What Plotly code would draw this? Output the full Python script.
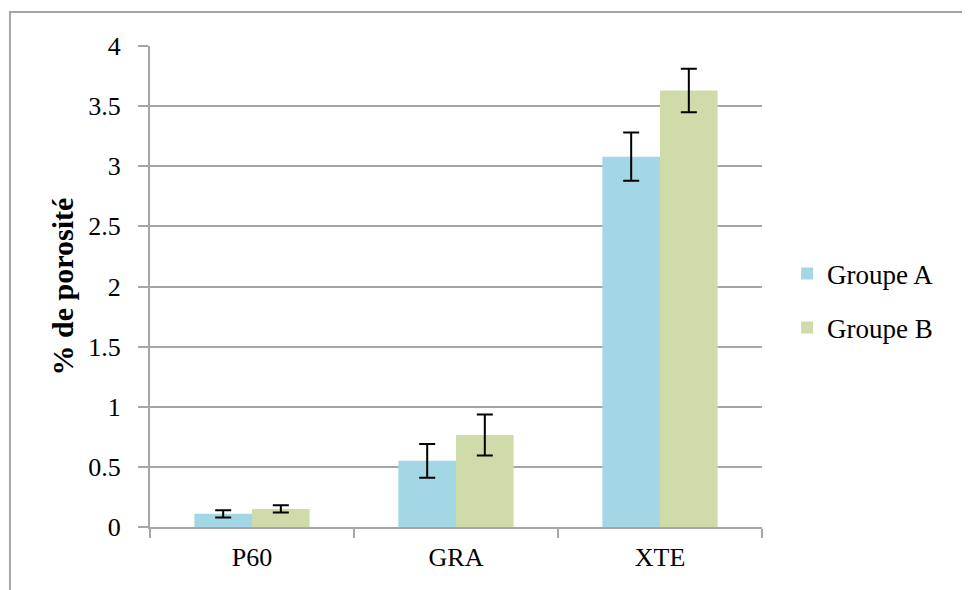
import plotly.graph_objects as go

categories = ["P60", "GRA", "XTE"]
groupe_a = [0.11, 0.55, 3.08]
groupe_a_err = [0.03, 0.14, 0.20]
groupe_b = [0.15, 0.765, 3.63]
groupe_b_err = [0.03, 0.17, 0.18]
y_ticks = [0, 0.5, 1, 1.5, 2, 2.5, 3, 3.5, 4]
y_ticktext = ["0", "0.5", "1", "1.5", "2", "2.5", "3", "3.5", "4"]

font_family = "Liberation Serif"
grid_color = "#a6a6a6"

fig = go.Figure()
fig.add_trace(
    go.Bar(
        x=categories,
        y=groupe_a,
        name="Groupe A",
        legendgroup="a",
        marker=dict(color="#a4d7e5", line_width=0),
        error_y=dict(type="data", array=groupe_a_err, color="black", thickness=2, width=8),
    )
)
fig.add_trace(
    go.Bar(
        x=categories,
        y=groupe_b,
        name="Groupe B",
        legendgroup="b",
        marker=dict(color="#cfdcaa", line_width=0),
        error_y=dict(type="data", array=groupe_b_err, color="black", thickness=2, width=8),
    )
)

# page body adds an 8px offset, so margins are trimmed by 8 on left/top
fig.update_layout(
    width=970,
    height=590,
    margin=dict(l=142, r=216, t=38, b=71),
    plot_bgcolor="white",
    paper_bgcolor="white",
    font=dict(family=font_family, size=26, color="black"),
    barmode="group",
    bargap=0.435,
    bargroupgap=0,
    xaxis=dict(
        showline=True,
        linecolor=grid_color,
        linewidth=2,
        ticks="outside",
        tickson="boundaries",
        ticklen=9,
        tickcolor=grid_color,
        tickwidth=2,
        showgrid=False,
        tickfont=dict(size=26),
        ticklabelstandoff=6,
    ),
    yaxis=dict(
        range=[0, 4],
        tickvals=y_ticks,
        ticktext=y_ticktext,
        showline=True,
        linecolor=grid_color,
        linewidth=2,
        ticks="outside",
        ticklen=10,
        tickcolor=grid_color,
        tickwidth=2,
        showgrid=True,
        gridcolor=grid_color,
        gridwidth=2,
        zeroline=False,
        tickfont=dict(size=26),
        ticklabelstandoff=12,
        title=dict(text="<b>% de porosité</b>", font=dict(size=30), standoff=6),
    ),
    legend=dict(
        x=1.041,
        y=0.47,
        yanchor="middle",
        xanchor="left",
        font=dict(size=27),
        tracegroupgap=16,
        itemwidth=30,
    ),
    shapes=[
        dict(
            type="rect",
            xref="paper",
            yref="paper",
            x0=-0.2288,
            y0=-0.2,
            x1=1.4,
            y1=1.0707,
            line=dict(color="#a6a6a6", width=2),
            fillcolor="rgba(0,0,0,0)",
            layer="below",
        )
    ],
)

fig.write_html("out.html")
